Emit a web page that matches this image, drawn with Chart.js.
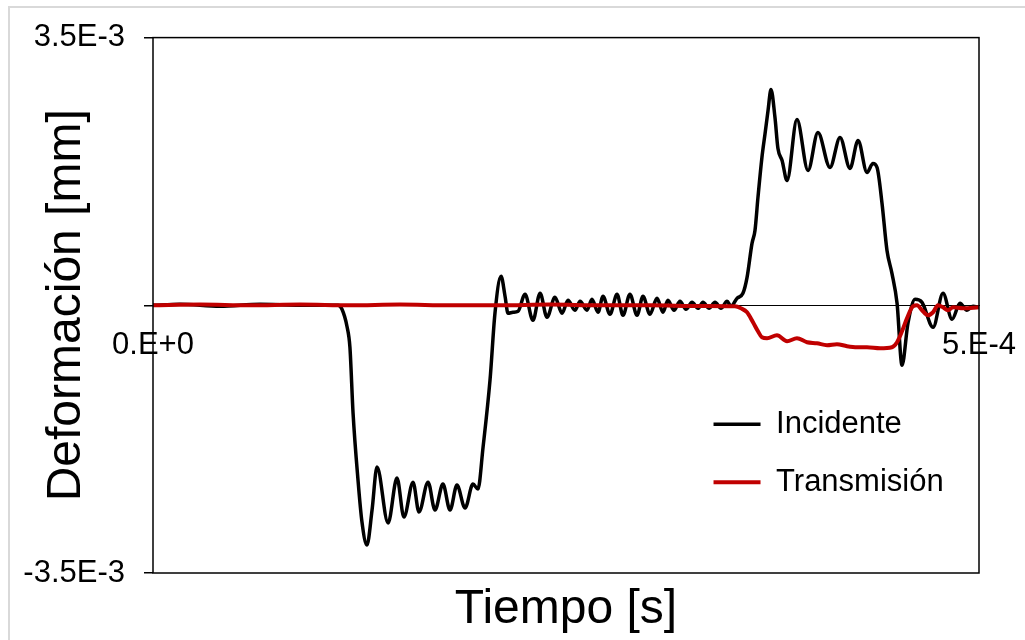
<!DOCTYPE html>
<html>
<head>
<meta charset="utf-8">
<script src="https://cdn.jsdelivr.net/npm/chart.js@4"></script>
<style>
  html, body { margin: 0; padding: 0; background: #ffffff; }
  #frame { position: absolute; left: 8px; top: 6px; width: 1100px; height: 700px; border: 2px solid #d9d9d9; }
  #wrap { position: absolute; left: 0; top: 0; width: 1025px; height: 640px; }
</style>
</head>
<body>
<div id="frame"></div>
<div id="wrap"><canvas id="c" width="1025" height="640"></canvas></div>
<script>
// ---- Data (time in s, deformation in mm) ----
const incTiempo = [0, 16.3e-6, 40.6e-6, 64.8e-6, 89.0e-6, 112.0e-6, 114.4e-6, 117.4e-6, 119.2e-6, 121.1e-6,
  124.1e-6, 126.5e-6, 129.5e-6, 132.6e-6, 135.6e-6, 142.3e-6, 147.7e-6, 151.9e-6, 157.4e-6, 161.0e-6,
  166.5e-6, 170.7e-6, 175.5e-6, 179.8e-6, 184.0e-6, 188.9e-6, 193.7e-6, 196.7e-6, 199.8e-6, 204.0e-6,
  207.0e-6, 210.7e-6, 213.1e-6, 214.9e-6, 217.9e-6, 221.0e-6, 225.2e-6, 230.0e-6, 234.3e-6, 238.5e-6,
  243.3e-6, 247.6e-6, 251.2e-6, 255.4e-6, 258.5e-6, 262.7e-6, 265.7e-6, 269.4e-6, 272.4e-6, 276.6e-6,
  280.9e-6, 284.5e-6, 288.7e-6, 293.0e-6, 296.6e-6, 300.8e-6, 305.1e-6, 308.7e-6, 311.7e-6, 315.4e-6,
  319.0e-6, 322.6e-6, 326.3e-6, 329.9e-6, 332.9e-6, 336.6e-6, 340.2e-6, 343.8e-6, 347.5e-6, 349.9e-6,
  353.5e-6, 357.1e-6, 359.6e-6, 362.6e-6, 364.4e-6, 366.2e-6, 368.6e-6, 370.5e-6, 372.3e-6, 374.1e-6,
  376.5e-6, 378.3e-6, 380.8e-6, 383.8e-6, 389.8e-6, 396.5e-6, 402.5e-6, 409.8e-6, 415.9e-6, 421.9e-6,
  426.8e-6, 432.2e-6, 435.8e-6, 438.3e-6, 441.3e-6, 444.3e-6, 447.3e-6, 450.4e-6, 453.4e-6, 457.0e-6,
  461.3e-6, 465.5e-6, 472.2e-6, 478.2e-6, 483.7e-6, 488.5e-6, 492.7e-6, 496.4e-6, 500.0e-6];
const incDeformacion = [0, 0.013e-3, -0.013e-3, 0.013e-3, 0, 0, -0.052e-3, -0.274e-3, -0.548e-3, -1.410e-3,
  -2.285e-3, -2.834e-3, -3.134e-3, -2.677e-3, -2.115e-3, -2.847e-3, -2.259e-3, -2.769e-3, -2.312e-3, -2.703e-3,
  -2.312e-3, -2.677e-3, -2.338e-3, -2.677e-3, -2.351e-3, -2.651e-3, -2.338e-3, -2.403e-3, -1.854e-3, -0.979e-3,
  -0.104e-3, 0.379e-3, 0.118e-3, -0.104e-3, -0.091e-3, -0.078e-3, 0.144e-3, -0.196e-3, 0.157e-3, -0.157e-3,
  0.104e-3, -0.104e-3, 0.065e-3, -0.065e-3, 0.052e-3, -0.065e-3, 0.078e-3, -0.091e-3, 0.118e-3, -0.118e-3,
  0.144e-3, -0.131e-3, 0.144e-3, -0.131e-3, 0.118e-3, -0.118e-3, 0.091e-3, -0.091e-3, 0.065e-3, -0.065e-3,
  0.052e-3, -0.052e-3, 0.039e-3, -0.039e-3, 0.039e-3, -0.039e-3, 0.039e-3, -0.039e-3, 0.052e-3, -0.013e-3,
  0.091e-3, 0.157e-3, 0.366e-3, 0.810e-3, 0.979e-3, 1.410e-3, 1.933e-3, 2.246e-3, 2.547e-3, 2.821e-3,
  2.455e-3, 2.050e-3, 1.894e-3, 1.632e-3, 2.429e-3, 1.763e-3, 2.259e-3, 1.802e-3, 2.194e-3, 1.789e-3,
  2.155e-3, 1.737e-3, 1.854e-3, 1.802e-3, 1.332e-3, 0.718e-3, 0.418e-3, 0.026e-3, -0.784e-3, -0.235e-3,
  0.078e-3, 0.039e-3, -0.287e-3, 0.157e-3, -0.183e-3, 0.026e-3, -0.065e-3, -0.013e-3, -0.026e-3];

const traTiempo = [0, 28.5e-6, 58.7e-6, 89.0e-6, 119.2e-6, 149.5e-6, 179.8e-6, 210.0e-6, 240.3e-6, 270.6e-6,
  300.8e-6, 331.1e-6, 352.3e-6, 355.9e-6, 359.6e-6, 363.2e-6, 366.2e-6, 368.6e-6, 371.7e-6, 377.7e-6,
  383.8e-6, 389.8e-6, 395.9e-6, 401.9e-6, 408.0e-6, 414.0e-6, 420.1e-6, 426.2e-6, 432.2e-6, 440.1e-6,
  447.3e-6, 450.4e-6, 453.4e-6, 456.4e-6, 460.0e-6, 462.5e-6, 465.5e-6, 469.1e-6, 472.2e-6, 475.2e-6,
  478.2e-6, 481.2e-6, 484.3e-6, 490.3e-6, 500.0e-6];
const traDeformacion = [0, 0.01e-3, 0, 0.01e-3, 0, 0.01e-3, 0, 0, 0.01e-3, 0,
  0, -0.01e-3, -0.013e-3, -0.039e-3, -0.091e-3, -0.222e-3, -0.340e-3, -0.418e-3, -0.431e-3, -0.392e-3,
  -0.470e-3, -0.431e-3, -0.483e-3, -0.496e-3, -0.522e-3, -0.509e-3, -0.535e-3, -0.548e-3, -0.548e-3, -0.561e-3,
  -0.548e-3, -0.483e-3, -0.340e-3, -0.170e-3, -0.013e-3, 0, -0.065e-3, -0.131e-3, -0.091e-3, 0,
  -0.026e-3, -0.065e-3, -0.026e-3, -0.039e-3, -0.026e-3];

const seriesNames = ['Incidente', 'Transmisión'];
const yTickValues = [-3.5e-3, 0, 3.5e-3];
const yTickLabels = ['-3.5E-3', '', '3.5E-3'];
const xTickValues = [0, 5e-4];
const xTickLabels = ['0.E+0', '5.E-4'];
const xRange = [0, 5e-4];
const yRange = [-3.5e-3, 3.5e-3];

const FONT = '"Liberation Sans", Arial, sans-serif';

const toPoints = (xs, ys) => xs.map((x, i) => ({ x: x, y: ys[i] }));

const plotBorder = {
  id: 'plotBorder',
  afterDatasetsDraw(chart) {
    const { ctx, chartArea: a } = chart;
    ctx.save();
    ctx.strokeStyle = '#000';
    ctx.lineWidth = 1.5;
    ctx.strokeRect(a.left, a.top, a.right - a.left, a.bottom - a.top);
    ctx.restore();
  }
};

const legendPlace = {
  id: 'legendPlace',
  afterLayout(chart) {
    const lg = chart.legend;
    const a = chart.chartArea;
    if (!lg) return;
    const pad = lg.options.labels.padding;
    const fs = lg.options.labels.font.size;
    const W = a.right - a.left, H = a.bottom - a.top;
    lg.left = a.left + W * 0.6786 - pad;
    lg.top = a.top + H * 0.722 - pad - fs / 2;
    lg.right = a.right;
    lg.bottom = a.bottom;
  }
};

new Chart(document.getElementById('c'), {
  type: 'line',
  data: {
    datasets: [
      {
        label: seriesNames[0],
        data: toPoints(incTiempo, incDeformacion),
        borderColor: '#000000',
        backgroundColor: '#000000',
        borderWidth: 3.5,
        pointRadius: 0,
        pointStyle: 'line',
        cubicInterpolationMode: 'monotone',
        order: 1
      },
      {
        label: seriesNames[1],
        data: toPoints(traTiempo, traDeformacion),
        borderColor: '#C00000',
        backgroundColor: '#C00000',
        borderWidth: 4,
        pointRadius: 0,
        pointStyle: 'line',
        cubicInterpolationMode: 'monotone',
        order: 0
      }
    ]
  },
  options: {
    responsive: false,
    animation: false,
    layout: { padding: { left: 0, top: 37, right: 46, bottom: 0 } },
    plugins: {
      tooltip: { enabled: false },
      legend: {
        display: true,
        position: 'chartArea',
        align: 'start',
        labels: {
          usePointStyle: true,
          pointStyle: 'line',
          pointStyleWidth: 47,
          padding: 27,
          color: '#000',
          font: { family: FONT, size: 31 },
          sort: (a, b) => a.datasetIndex - b.datasetIndex
        }
      }
    },
    scales: {
      x: {
        type: 'linear',
        position: 'bottom',
        min: xRange[0], max: xRange[1],
        ticks: { display: false },
        grid: { display: false, drawTicks: false },
        border: { display: false },
        title: {
          display: true,
          text: 'Tiempo [s]',
          color: '#000',
          font: { family: FONT, size: 48 },
          padding: { top: 0, bottom: 1 }
        },
        afterFit(scale) { scale.height = 67; scale.paddingLeft = 0; scale.paddingRight = 0; }
      },
      x2: {
        type: 'linear',
        axis: 'x',
        position: { y: 0 },
        min: xRange[0], max: xRange[1],
        afterBuildTicks(scale) { scale.ticks = xTickValues.map(v => ({ value: v })); },
        ticks: {
          color: '#000',
          font: { family: FONT, size: 31 },
          padding: 22,
          maxRotation: 0,
          autoSkip: false,
          callback: (v) => { const i = xTickValues.indexOf(v); return i >= 0 ? xTickLabels[i] : ''; }
        },
        grid: { display: false, drawTicks: false },
        border: { display: true, color: '#000', width: 1 },
        afterFit(scale) { scale.paddingLeft = 0; scale.paddingRight = 0; }
      },
      y: {
        type: 'linear',
        position: 'left',
        min: yRange[0], max: yRange[1],
        afterBuildTicks(scale) { scale.ticks = yTickValues.map(v => ({ value: v })); },
        ticks: {
          color: '#000',
          font: { family: FONT, size: 31 },
          padding: 19,
          autoSkip: false,
          callback: (v) => { const i = yTickValues.indexOf(v); return i >= 0 ? yTickLabels[i] : ''; }
        },
        grid: { display: true, drawOnChartArea: false, drawTicks: true, tickLength: 9, color: '#000', lineWidth: 1.5 },
        border: { display: false },
        title: {
          display: true,
          text: 'Deformación [mm]',
          color: '#000',
          font: { family: FONT, size: 48 },
          padding: { top: 38, bottom: 0 }
        },
        afterFit(scale) { scale.width = 153; }
      }
    }
  },
  plugins: [plotBorder, legendPlace]
});
</script>
</body>
</html>
